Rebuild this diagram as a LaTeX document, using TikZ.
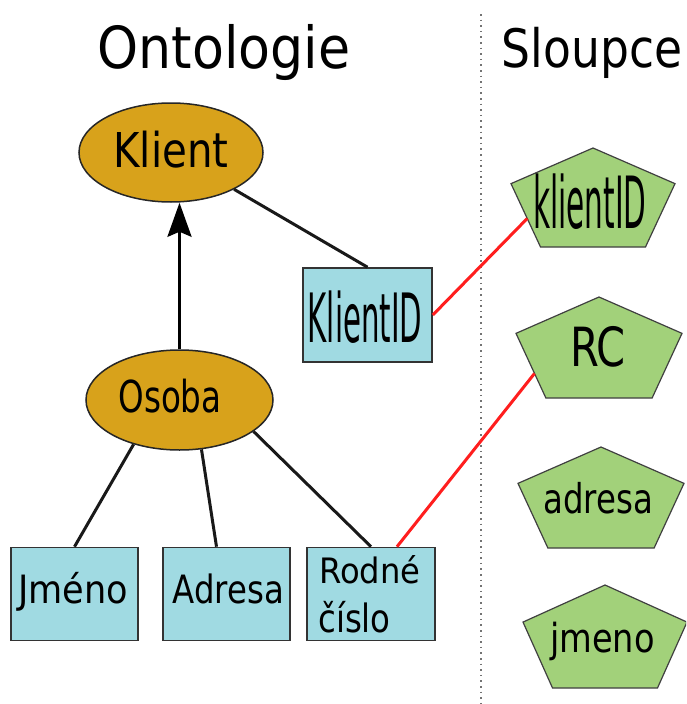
\documentclass[tikz,border=0pt]{standalone}
\usepackage{fontspec}
\setmainfont{DejaVu Sans}
\usepackage{graphicx}
\usetikzlibrary{shapes.geometric,arrows.meta,calc}
\definecolor{ellfill}{HTML}{D8A21B}
\definecolor{boxfill}{HTML}{A0DAE2}
\definecolor{pentfill}{HTML}{A2D17A}
\definecolor{redline}{HTML}{FF1E1E}
\newcommand\T[3]{{\fontsize{#1}{#1}\selectfont\scalebox{#2}[1]{#3}}}
\newcommand\pentagon[5]{% name, cx, top, w, h
  \coordinate (#1-t) at (#2,#3);
  \coordinate (#1-r) at ({#2+#4/2},{#3+0.36*#5});
  \coordinate (#1-br) at ({#2+0.32*#4},{#3+#5});
  \coordinate (#1-bl) at ({#2-0.32*#4},{#3+#5});
  \coordinate (#1-l) at ({#2-#4/2},{#3+0.36*#5});
  \filldraw[pentshape] (#1-t) -- (#1-r) -- (#1-br) -- (#1-bl) -- (#1-l) -- cycle;
}
\tikzset{
  ellshape/.style={ellipse, draw=black!85, line width=1.5pt, fill=ellfill, inner sep=0pt},
  boxshape/.style={rectangle, draw=black!80, line width=1.6pt, fill=boxfill, inner sep=0pt, minimum height=93pt},
  pentshape/.style={draw=black!75, line width=1.2pt, fill=pentfill},
  lbl/.style={anchor=base, inner sep=0pt},
  link/.style={line width=3pt, black!90},
  redlink/.style={line width=3pt, redline},
  isa/.style={line width=3pt, black, -{Stealth[length=34pt, width=24pt, inset=5pt]}},
  sep/.style={line width=1.6pt, black!55, dash pattern=on 1.6pt off 4pt}
}
\begin{document}
\begin{tikzpicture}[x=1pt,y=-1pt]
\path[use as bounding box, fill=white] (0,0) rectangle (686,704);
\clip (0,0) rectangle (686,704);

% separator
\coordinate (septop) at (481,14);
\coordinate (sepbot) at (481,704);
\draw[sep] (septop) -- (sepbot);

% titles
\node[lbl] (tont) at (224,68) {\T{58}{0.90}{Ontologie}};
\node[lbl] (tslo) at (592,67) {\T{53}{0.86}{Sloupce}};

% ellipses
\node[ellshape, minimum width=184pt, minimum height=99pt] (klient) at (171,152.5) {};
\node[lbl] (tklient) at (171,167) {\T{48}{0.84}{Klient}};
\node[ellshape, minimum width=187pt, minimum height=100pt] (osoba) at (179.5,400) {};
\node[lbl] (tosoba) at (170,412) {\T{44}{0.74}{Osoba}};

% boxes
\node[boxshape, minimum width=129pt, minimum height=94pt] (kid) at (367.5,315) {};
\node[lbl] (tkid) at (365,342) {\T{68}{0.43}{KlientID}};
\node[boxshape, minimum width=127pt] (jm) at (74.5,594) {};
\node[lbl] (tjm) at (73,603) {\T{39}{0.90}{Jméno}};
\node[boxshape, minimum width=127pt] (ad) at (226.5,594) {};
\node[lbl] (tad) at (228.5,603) {\T{39}{0.83}{Adresa}};
\node[boxshape, minimum width=128pt] (rc) at (371,594) {};
\node[lbl, anchor=base west] (trc1) at (319,583) {\T{35}{0.92}{Rodné}};
\node[lbl, anchor=base west] (trc2) at (318,632) {\T{39}{0.83}{číslo}};

% pentagons
\pentagon{pk}{593}{148}{164}{99}
\node[lbl] (tpk) at (590,228) {\T{72}{0.41}{klientID}};
\pentagon{prc}{599}{297}{166}{101}
\node[lbl] (tprc) at (598,366) {\T{54}{0.77}{RC}};
\pentagon{pad}{601}{447}{166}{101}
\node[lbl] (tpad) at (598,513) {\T{41}{0.79}{adresa}};
\pentagon{pjm}{605}{585}{164}{103}
\node[lbl] (tpjm) at (602.5,652) {\T{40}{0.84}{jmeno}};

% connectors
\draw[isa] (osoba.north) -- (osoba.north |- klient.south);
\draw[link] (klient) -- (kid.north);
\draw[link] (osoba.224) -- (jm.north);
\draw[link] (osoba.294) -- ([xshift=-10pt]ad.north);
\draw[link] (osoba.337) -- (rc.north);

\coordinate (pk-e) at ($(pk-l)!0.55!(pk-bl)$);
\coordinate (prc-e) at ($(prc-l)!0.62!(prc-bl)$);
\draw[redlink] (kid.east) -- (pk-e);
\draw[redlink] ([xshift=26pt]rc.north) -- (prc-e);
\end{tikzpicture}
\end{document}
